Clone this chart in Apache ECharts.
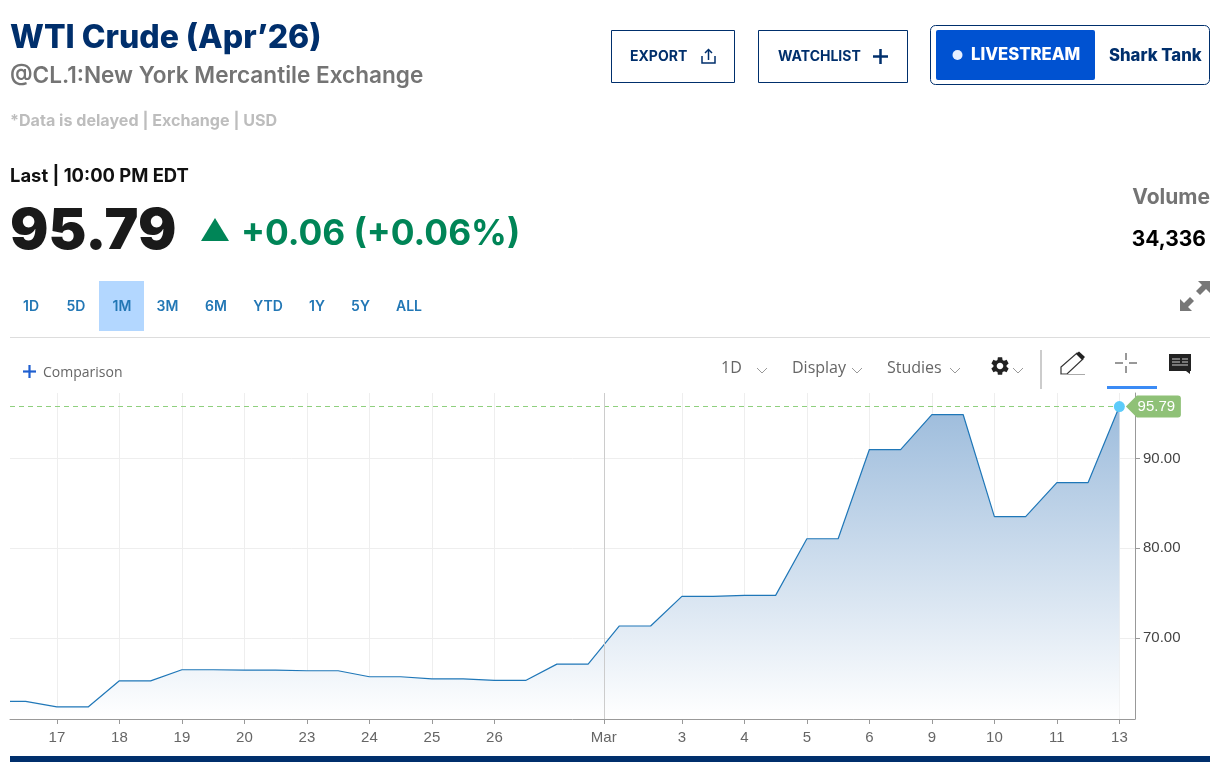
<!DOCTYPE html>
<html><head><meta charset="utf-8">
<style>html,body{margin:0;padding:0;background:#fff}#c{width:1228px;height:776px}</style>
<script src="https://cdn.jsdelivr.net/npm/echarts@6/dist/echarts.min.js"></script>
</head><body><div id="c"></div>
<script>
// Session slots along the time axis (17 Feb = 0; half steps are the midday closes)
const slots = [-0.75,-0.5,0,0.5,1,1.5,2,2.5,3,3.5,4,4.5,5,5.5,6,6.5,7,7.5,8,8.5,9,9.5,10,10.5,11,11.5,12,12.5,13,13.5,14,14.5,15,15.5,16,16.5,17];
const prices = [62.93,62.93,62.32,62.32,65.23,65.23,66.46,66.46,66.42,66.42,66.35,66.35,65.68,65.68,65.45,65.45,65.27,65.27,67.09,67.09,71.34,71.34,74.64,74.64,74.75,74.75,81.06,81.06,91.0,91.0,94.9,94.9,83.52,83.52,87.32,87.32,95.79];
const tickSlots = [0,1,2,3,4,5,6,7,8.75,10,11,12,13,14,15,16,17];
const tickLabels = ['17','18','19','20','23','24','25','26','Mar','3','4','5','6','9','10','11','13'];
const yTicks = [70,80,90];
const lastPrice = 95.79;
const rangeLabels = ['1D','5D','1M','3M','6M','YTD','1Y','5Y','ALL'];
const rangeCenters = [31,76,122,167.5,216,268,317,360.5,409];

const NAVY='#002f6c', SANS='Inter, Lato, sans-serif', UI='"Liberation Sans", Arial, sans-serif', LIGHT='"Open Sans", sans-serif';
const Y_MIN=60.975, Y_MAX=97.3;
const g=echarts.graphic;
const GEAR="M19.14 12.94c.04-.3.06-.61.06-.94 0-.32-.02-.64-.07-.94l2.03-1.58c.18-.14.23-.41.12-.61l-1.92-3.32c-.12-.22-.37-.29-.59-.22l-2.39.96c-.5-.38-1.03-.7-1.62-.94l-.36-2.54c-.04-.24-.24-.41-.48-.41h-3.84c-.24 0-.43.17-.47.41l-.36 2.54c-.59.24-1.13.57-1.62.94l-2.39-.96c-.22-.08-.47 0-.59.22L2.74 8.87c-.12.21-.08.47.12.61l2.03 1.58c-.05.3-.09.63-.09.94s.02.64.07.94l-2.03 1.58c-.18.14-.23.41-.12.61l1.92 3.32c.12.22.37.29.59.22l2.39-.96c.5.38 1.03.7 1.62.94l.36 2.54c.05.24.24.41.48.41h3.84c.24 0 .44-.17.47-.41l.36-2.54c.59-.24 1.13-.56 1.62-.94l2.39.96c.22.08.47 0 .59-.22l1.92-3.32c.12-.22.07-.47-.12-.61l-2.01-1.58zM12 15.6c-1.98 0-3.6-1.62-3.6-3.6s1.62-3.6 3.6-3.6 3.6 1.62 3.6 3.6-1.62 3.6-3.6 3.6z";
g.registerShape('gearIcon',g.extendPath(GEAR,{}));
g.registerShape('expandIcon',g.extendPath('M18 0H30V12L26 8L20 14L16 10L22 4ZM12 30H0V18L4 22L10 16L14 20L8 26Z',{}));
g.registerShape('noteIcon',g.extendPath('M0 0H22V17H21V20L17 17H0Z',{}));

const txt=(text,x,y,size,weight,fill,align,family)=>({type:'text',x,y,silent:true,style:{text,fill,align:align||'left',verticalAlign:'middle',font:`${weight} ${size}px ${family||SANS}`}});
const rect=(x,y,w,h,style,r)=>({type:'rect',silent:true,shape:{x,y,width:w,height:h,r:r||0},style});
const line=(x1,y1,x2,y2,stroke,lineWidth)=>({type:'line',silent:true,shape:{x1,y1,x2,y2},style:{stroke,lineWidth:lineWidth||1}});
const icon=(type,x,y,s,style)=>({type,silent:true,x,y,scaleX:s,scaleY:s,style});
const chevron=(cx,cy)=>({type:'polyline',silent:true,shape:{points:[[cx-5,cy-3],[cx,cy+2],[cx+5,cy-3]]},style:{stroke:'#999',fill:null,lineWidth:1}});

const chrome=[
  txt('WTI Crude (Apr\u201926)',10,38,32,'800',NAVY),
  txt('@CL.1:New York Mercantile Exchange',10,76,22.6,'600','#747474'),
  txt('*Data is delayed | Exchange | USD',10,121,16.1,'700','#bdbdbd'),
  txt('Last | 10:00 PM EDT',10,176,18.4,'700','#111'),
  txt('95.79',10,232,57,'900','#1a1a1a'),
  {type:'polygon',silent:true,shape:{points:[[215,218],[229,241],[201,241]]},style:{fill:'#008557'}},
  txt('+0.06 (+0.06%)',241,234,35.3,'700','#008557'),
  rect(611.5,30.5,123,52,{fill:'#fff',stroke:NAVY,lineWidth:1}),
  txt('EXPORT',630,56.5,14,'700',NAVY),
  {type:'polyline',silent:true,shape:{points:[[702,56],[702,63],[715,63],[715,56]]},style:{stroke:NAVY,lineWidth:1.5,fill:null}},
  line(708.5,50,708.5,60,NAVY,1.5),
  {type:'polyline',silent:true,shape:{points:[[705,53],[708.5,49.5],[712,53]]},style:{stroke:NAVY,lineWidth:1.5,fill:null}},
  rect(758.5,30.5,149,52,{fill:'#fff',stroke:NAVY,lineWidth:1}),
  txt('WATCHLIST',778,56.5,14,'700',NAVY),
  line(873,56.5,888,56.5,NAVY,2.5),
  line(880.5,49,880.5,64,NAVY,2.5),
  rect(930.5,25.5,279,59,{fill:'#fff',stroke:NAVY,lineWidth:1},5),
  rect(936,30,159,50,{fill:'#0052d1'},2),
  {type:'circle',silent:true,shape:{cx:957.5,cy:55,r:5},style:{fill:'#e8f0ff'}},
  txt('LIVESTREAM',971,55,16.7,'800','#fff'),
  txt('Shark Tank',1109,56,16.7,'800',NAVY),
  txt('Volume',1210,198,21,'700','#747474','right'),
  txt('34,336',1206,240,21,'700','#000','right'),
  icon('expandIcon',1180,281,1,{fill:'#777'}),
  rect(99,281,45,50,{fill:'#b3d7ff'}),
  ...rangeLabels.map((t,i)=>txt(t,rangeCenters[i],306.5,14,'600','#2277b5','center')),
  line(10,337.5,1210,337.5,'#ddd',1),
  line(23,371.5,36,371.5,'#1f5fd0',2.2),
  line(29.5,365,29.5,378,'#1f5fd0',2.2),
  txt('Comparison',43,373,14,'400','#666','left',LIGHT),
  txt('1D',721,368,16,'400','#666','left',LIGHT),
  chevron(762,371),
  txt('Display',792,368,16,'400','#666','left',LIGHT),
  chevron(857,371),
  txt('Studies',887,368,16,'400','#666','left',LIGHT),
  chevron(955,371),
  icon('gearIcon',989,355,22/24,{fill:'#222'}),
  chevron(1018,371),
  line(1041,350,1041,389,'#ccc',2),
  {type:'polygon',silent:true,shape:{points:[[1061,374],[1061,367],[1077,353],[1083,359],[1067,374]]},style:{fill:'#fff',stroke:'#333',lineWidth:1.2}},
  {type:'polygon',silent:true,shape:{points:[[1076,354],[1079,351.5],[1085,357],[1082,360]]},style:{fill:'#222'}},
  line(1061,374.5,1085,374.5,'#aaa',1),
  line(1115,363,1123,363,'#333',1),line(1129,363,1137,363,'#333',1),
  line(1126,353,1126,360,'#333',1),line(1126,366,1126,373,'#333',1),
  rect(1107,386,50,3,{fill:'#3b8bf5'}),
  icon('noteIcon',1169,354,1,{fill:'#222'}),
  line(1172,359,1180,359,'#ccc',1),line(1172,362,1180,362,'#ccc',1),line(1172,365,1188,365,'#ccc',1),line(1182,359,1188,359,'#ccc',1),line(1182,362,1188,362,'#ccc',1),
  rect(10,756,1200,6,{fill:NAVY})
];

const chart=echarts.init(document.getElementById('c'),null,{renderer:'canvas'});
const lastSlot=slots[slots.length-1];
chart.setOption({
  animation:false,
  backgroundColor:'#fff',
  graphic:chrome,
  grid:{left:10,top:393,width:1125,height:326,containLabel:false},
  tooltip:{show:false},
  xAxis:{type:'value',min:-0.75,max:17.25,
    axisLine:{show:true,onZero:false,lineStyle:{color:'#999',width:1}},
    axisTick:{show:true,length:5,customValues:tickSlots,lineStyle:{color:'#999'}},
    axisLabel:{customValues:tickSlots,margin:11,fontSize:15,color:'#666',fontFamily:UI,hideOverlap:false,
      formatter:v=>tickLabels[tickSlots.indexOf(v)]},
    splitLine:{show:true,lineStyle:{color:'#eee',width:1}}},
  yAxis:{type:'value',position:'right',min:Y_MIN,max:Y_MAX,
    axisLine:{show:true,onZero:false,lineStyle:{color:'#999',width:1}},
    axisTick:{show:true,length:5,customValues:yTicks,lineStyle:{color:'#999'}},
    axisLabel:{customValues:yTicks,margin:8,fontSize:15,color:'#444',fontFamily:UI,padding:[2,0,0,0],formatter:v=>v.toFixed(2)},
    splitLine:{show:true,lineStyle:{color:'#eee',width:1}}},
  series:[{
    type:'line',silent:true,showSymbol:false,smooth:false,clip:false,
    data:slots.map((s,i)=>[s,prices[i]]),
    lineStyle:{color:'#1f77b8',width:1.2},
    areaStyle:{origin:'start',opacity:1,color:new g.LinearGradient(0,0,0,1,[{offset:0,color:'#9dbcdc'},{offset:1,color:'#ffffff'}])},
    markLine:{silent:true,symbol:'none',animation:false,label:{show:false},data:[
      [{coord:[slots[0],lastPrice]},{coord:[lastSlot,lastPrice],lineStyle:{color:'#8fd07e',type:[5,4],width:1}}],
      [{coord:[tickSlots[8],Y_MIN]},{coord:[tickSlots[8],Y_MAX],lineStyle:{color:'#ccc',type:'solid',width:1}}]
    ]},
    markPoint:{silent:true,animation:false,data:[
      {coord:[lastSlot,lastPrice],symbol:'path://M0 11L11 0H52Q55 0 55 3V19Q55 22 52 22H11Z',symbolSize:[55,22],symbolOffset:[34,0],
        itemStyle:{color:'#8fc177'},label:{show:true,position:'inside',offset:[3,0],formatter:lastPrice.toFixed(2),color:'#fff',fontSize:15,fontFamily:UI}},
      {coord:[lastSlot,lastPrice],symbol:'circle',symbolSize:11,itemStyle:{color:'#5ccbfa'},label:{show:false}}
    ]}
  }]
});
</script></body></html>
